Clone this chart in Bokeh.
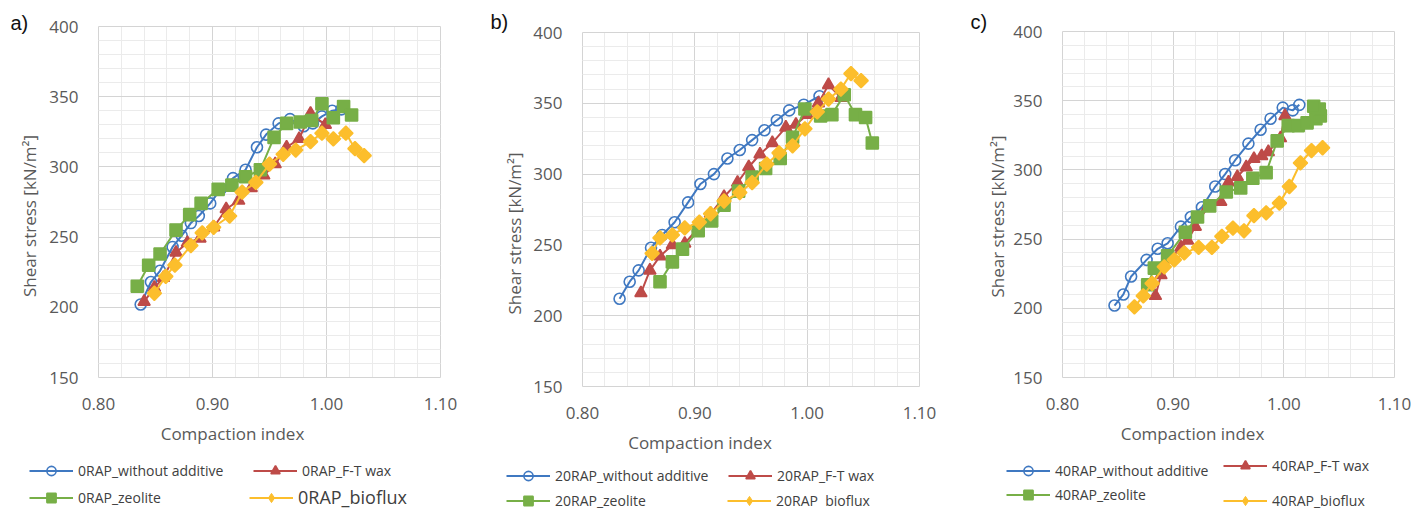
from bokeh.plotting import figure
from bokeh.models import (Range1d, FixedTicker, PrintfTickFormatter, Legend, LegendItem,
                          Label, Grid)
from bokeh.layouts import row
from bokeh.embed import file_html
from bokeh.resources import INLINE

# ---------------- data ----------------
x_ticks = [0.80, 0.90, 1.00, 1.10]
y_ticks = [150, 200, 250, 300, 350, 400]
x_minor = [0.82, 0.84, 0.86, 0.88, 0.92, 0.94, 0.96, 0.98, 1.02, 1.04, 1.06, 1.08]
y_minor = [160, 170, 180, 190, 210, 220, 230, 240, 260, 270, 280, 290,
           310, 320, 330, 340, 360, 370, 380, 390]

# panel a) 0RAP
a_wo_x = [0.837, 0.846, 0.854, 0.865, 0.873, 0.881, 0.888, 0.898, 0.907, 0.918, 0.929, 0.939, 0.947, 0.958, 0.968, 0.980, 0.988, 0.996, 1.005, 1.013]
a_wo_y = [202, 218, 226, 243, 251, 260, 265, 274, 284, 292, 298, 314, 323, 331, 334, 329, 331, 336, 340, 341]
a_ft_x = [0.840, 0.849, 0.857, 0.868, 0.878, 0.889, 0.901, 0.912, 0.923, 0.934, 0.945, 0.955, 0.965, 0.976, 0.986, 0.999]
a_ft_y = [204, 214, 221, 239, 246, 249, 257, 270, 276, 285, 294, 302, 314, 320, 338, 330]
a_ze_x = [0.834, 0.844, 0.854, 0.868, 0.880, 0.890, 0.905, 0.917, 0.929, 0.942, 0.954, 0.965, 0.977, 0.987, 0.996, 1.006, 1.015, 1.022]
a_ze_y = [215, 230, 238, 255, 266, 274, 284, 287, 293, 298, 321, 331, 332, 333, 345, 335, 343, 337]
a_bf_x = [0.849, 0.859, 0.867, 0.881, 0.891, 0.901, 0.915, 0.926, 0.938, 0.950, 0.962, 0.973, 0.986, 0.996, 1.006, 1.017, 1.025, 1.033]
a_bf_y = [210, 222, 230, 244, 253, 257, 265, 282, 289, 302, 309, 312, 318, 324, 320, 324, 313, 308]

# panel b) 20RAP
b_wo_x = [0.833, 0.842, 0.850, 0.861, 0.871, 0.882, 0.894, 0.905, 0.917, 0.929, 0.940, 0.951, 0.962, 0.973, 0.984, 0.997, 1.011]
b_wo_y = [212, 224, 232, 248, 257, 266, 280, 293, 300, 311, 317, 324, 331, 338, 345, 349, 355]
b_ft_x = [0.852, 0.860, 0.869, 0.880, 0.891, 0.903, 0.914, 0.926, 0.938, 0.948, 0.958, 0.969, 0.981, 0.990, 1.000, 1.010, 1.019, 1.030]
b_ft_y = [216, 232, 242, 250, 251, 262, 272, 284, 294, 305, 314, 322, 333, 335, 342, 350, 363, 354]
b_ze_x = [0.869, 0.880, 0.889, 0.903, 0.915, 0.926, 0.939, 0.951, 0.963, 0.976, 0.987, 0.998, 1.012, 1.022, 1.033, 1.043, 1.052, 1.058]
b_ze_y = [224, 238, 247, 260, 267, 278, 288, 298, 304, 311, 326, 346, 341, 342, 356, 342, 340, 322]
b_bf_x = [0.862, 0.869, 0.880, 0.891, 0.904, 0.914, 0.926, 0.940, 0.951, 0.964, 0.975, 0.987, 0.998, 1.009, 1.019, 1.030, 1.039, 1.048]
b_bf_y = [244, 255, 257, 262, 266, 272, 281, 287, 294, 307, 315, 320, 332, 344, 353, 360, 371, 366]

# panel c) 40RAP
c_wo_x = [0.847, 0.855, 0.862, 0.876, 0.886, 0.895, 0.907, 0.916, 0.926, 0.938, 0.947, 0.956, 0.968, 0.979, 0.988, 0.999, 1.008, 1.014]
c_wo_y = [202, 210, 223, 235, 243, 247, 259, 266, 273, 288, 297, 307, 319, 329, 337, 345, 343, 347]
c_ft_x = [0.884, 0.889, 0.898, 0.907, 0.913, 0.920, 0.931, 0.943, 0.950, 0.958, 0.966, 0.973, 0.980, 0.986, 0.997, 1.001]
c_ft_y = [209, 224, 236, 244, 249, 259, 273, 277, 291, 295, 302, 308, 310, 313, 323, 339]
c_ze_x = [0.877, 0.883, 0.895, 0.911, 0.922, 0.933, 0.948, 0.961, 0.972, 0.984, 0.994, 1.004, 1.013, 1.021, 1.029, 1.033, 1.032, 1.027]
c_ze_y = [217, 229, 238, 255, 266, 274, 284, 287, 294, 298, 321, 332, 332, 334, 337, 339, 344, 346]
c_bf_x = [0.865, 0.873, 0.881, 0.892, 0.901, 0.910, 0.923, 0.935, 0.944, 0.954, 0.964, 0.973, 0.984, 0.996, 1.005, 1.015, 1.025, 1.035]
c_bf_y = [201, 209, 218, 230, 235, 240, 244, 244, 252, 258, 256, 267, 269, 276, 288, 305, 314, 316]

a_labels = ["0RAP_without additive", "0RAP_F-T wax", "0RAP_zeolite", "0RAP_bioflux"]
b_labels = ["20RAP_without additive", "20RAP_F-T wax", "20RAP_zeolite", "20RAP  bioflux"]
c_labels = ["40RAP_without additive", "40RAP_F-T wax", "40RAP_zeolite", "40RAP_bioflux"]

X0, X1, Y0, Y1 = 0.80, 1.10, 150, 400

# ---------------- style ----------------
FONT = "Open Sans"
BLUE, RED, GREEN, YELLOW = "#3F78C1", "#BE4B48", "#77AF47", "#FCBE2C"
H = 509
HAS_CROSS = "cross_bounds" in Grid.properties()

STYLES = [
    dict(marker="circle", color=BLUE, size=11, fill=None, angle=0.0),
    dict(marker="triangle", color=RED, size=12, fill=RED, angle=0.0),
    dict(marker="square", color=GREEN, size=12, fill=GREEN, angle=0.0),
    dict(marker="square", color=YELLOW, size=10, fill=YELLOW, angle=0.785398),
]


def make_panel(letter, series, labels, fig_x, W, L, PW, T, PH,
               leg_pos, leg_sizes, letter_pos, ylab_standoff, xlab_shift, ylab_shift):
    # the frame covers the whole figure; the plot area [X0,X1]x[Y0,Y1] sits inside it
    kx = (X1 - X0) / PW
    ky = (Y1 - Y0) / PH
    xr = Range1d(X0 - L * kx, X1 + (W - L - PW) * kx)
    yr = Range1d(Y0 - (H - T - PH) * ky, Y1 + T * ky)
    p = figure(width=W, height=H, x_range=xr, y_range=yr,
               output_backend="svg", toolbar_location=None,
               min_border=0, min_border_left=0, min_border_right=0,
               min_border_top=0, min_border_bottom=0)
    p.outline_line_color = None
    p.background_fill_color = "white"
    p.border_fill_color = "white"

    xt = FixedTicker(ticks=x_ticks, minor_ticks=x_minor)
    yt = FixedTicker(ticks=y_ticks, minor_ticks=y_minor)
    p.xaxis.ticker = xt
    p.xgrid.ticker = xt
    p.yaxis.ticker = yt
    p.ygrid.ticker = yt
    p.xaxis.formatter = PrintfTickFormatter(format="%.2f")
    p.xaxis.fixed_location = Y0
    p.yaxis.fixed_location = X0
    # axis titles sit off-centre in the reference: widen the axis bounds on one side
    p.xaxis.bounds = (X0 - 2 * xlab_shift * kx, X1)
    p.yaxis.bounds = (Y0 - 2 * ylab_shift * ky, Y1)
    p.xgrid.bounds = (X0, X1)
    p.ygrid.bounds = (Y0, Y1)
    if HAS_CROSS:
        p.xgrid.cross_bounds = (Y0, Y1)
        p.ygrid.cross_bounds = (X0, X1)

    for g in (p.xgrid, p.ygrid):
        g.grid_line_color = "#D4D4D4"
        g.grid_line_width = 1
        g.minor_grid_line_color = "#EBEBEB"
        g.minor_grid_line_width = 1

    for ax in (p.xaxis, p.yaxis):
        ax.axis_line_color = None
        ax.major_tick_line_color = None
        ax.minor_tick_line_color = None
        ax.major_tick_out = 0
        ax.major_tick_in = 0
        ax.minor_tick_out = 0
        ax.minor_tick_in = 0
        ax.major_label_standoff = 20
        ax.major_label_text_font = FONT
        ax.major_label_text_font_size = "17px"
        ax.major_label_text_color = "#595959"
        ax.axis_label_text_font = FONT
        ax.axis_label_text_font_size = "17px"
        ax.axis_label_text_font_style = "normal"
        ax.axis_label_text_color = "#595959"
    p.xaxis.axis_label = "Compaction index"
    p.xaxis.axis_label_standoff = 9
    p.yaxis.axis_label = "Shear stress [kN/m²]"
    p.yaxis.axis_label_standoff = ylab_standoff

    items = []
    for k, ((xs, ys), st) in enumerate(zip(series, STYLES)):
        rl = p.line(xs, ys, line_color=st["color"], line_width=2)
        if k == 3:
            # diamond glyph used for the legend key (hidden under the rotated squares)
            rk = p.scatter(xs, ys, marker="diamond", size=13, color=st["color"])
        rs = p.scatter(xs, ys, marker=st["marker"], size=st["size"], angle=st["angle"],
                       line_color=st["color"], line_width=1.6,
                       fill_color=st["fill"] if st["fill"] else None)
        items.append([rl, rk] if k == 3 else [rl, rs])

    gw, gh = 44, 23
    for lab, rends, (tx, cy), fs in zip(labels, items, leg_pos, leg_sizes):
        ih = 26 if fs == "18px" else 23
        leg = Legend(items=[LegendItem(label=lab, renderers=rends)],
                     location=(tx - 5 - gw - fig_x, H - cy - ih / 2),
                     glyph_width=gw, glyph_height=gh, label_height=ih, label_standoff=5,
                     padding=0, margin=0, spacing=0,
                     border_line_color=None, background_fill_alpha=0,
                     label_text_font=FONT, label_text_font_size=fs,
                     label_text_color="#404040")
        p.add_layout(leg, "center")

    lx, ly = letter_pos
    p.add_layout(Label(x=X0, y=Y1, x_offset=lx - (fig_x + L), y_offset=T - ly,
                       text=letter, text_font="Liberation Sans", text_font_size="20px",
                       text_color="#111111", text_baseline="middle", text_align="left"))
    return p


pa = make_panel("a)", [(a_wo_x, a_wo_y), (a_ft_x, a_ft_y), (a_ze_x, a_ze_y), (a_bf_x, a_bf_y)],
                a_labels, 0, 480, 98, 342, 26, 351,
                [(78, 470), (302, 470), (78, 497), (298, 497)],
                ["14px", "14px", "14px", "18px"], (10, 22), 5, 37, 14)
pb = make_panel("b)", [(b_wo_x, b_wo_y), (b_ft_x, b_ft_y), (b_ze_x, b_ze_y), (b_bf_x, b_bf_y)],
                b_labels, 480, 472, 102, 337, 32, 354,
                [(555, 475), (777, 475), (555, 500), (776, 500)],
                ["14px", "14px", "14px", "14px"], (490, 21), 4, 55, 24)
pc = make_panel("c)", [(c_wo_x, c_wo_y), (c_ft_x, c_ft_y), (c_ze_x, c_ze_y), (c_bf_x, c_bf_y)],
                c_labels, 952, 473, 110, 332, 31, 346,
                [(1055, 470), (1272, 465), (1055, 494), (1272, 500)],
                ["14px", "14px", "14px", "14px"], (970, 21), 1, 36, 12)

layout = row(pa, pb, pc)
open("out.html", "w").write(file_html(layout, INLINE))
